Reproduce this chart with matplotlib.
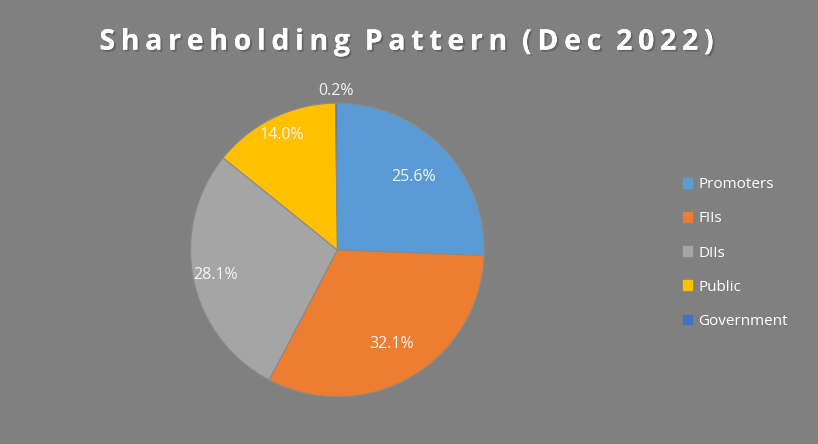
import matplotlib
matplotlib.use("Agg")
import matplotlib.pyplot as plt
import matplotlib.patheffects as pe
import numpy as np

categories = ["Promoters", "FIIs", "DIIs", "Public", "Government"]
values = [25.6, 32.1, 28.1, 14.0, 0.2]
labels = ["25.6%", "32.1%", "28.1%", "14.0%", "0.2%"]
colors = ["#5B9BD5", "#ED7D31", "#A5A5A5", "#FFC000", "#4472C4"]
label_r = [0.72, 0.74, 0.85, 0.87, 1.08]

fig = plt.figure(figsize=(8.18, 4.44), dpi=100)
fig.patch.set_facecolor("#808080")
ax = fig.add_axes([0.233, 0.106, 0.359, 0.662])
ax.set_facecolor("#808080")
wedges, _ = ax.pie(values, colors=colors, startangle=90, counterclock=False,
                   wedgeprops=dict(edgecolor="#8a8a8a", linewidth=0.8))
for w, lab, r in zip(wedges, labels, label_r):
    a = np.deg2rad((w.theta1 + w.theta2) / 2)
    ax.text(r * np.cos(a), r * np.sin(a), lab, ha="center", va="center",
            color="#f4f4f4", fontsize=11.5, family="Open Sans")
ax.set_aspect("equal")
ax.set_xlim(-1.0, 1.0); ax.set_ylim(-1.0, 1.0)

title = "Shareholding Pattern (Dec 2022)"
spaced = "\u2009".join(title).replace("\u2009 \u2009", "  ")
fig.text(0.498, 0.905, spaced, ha="center", va="center",
         color="white", fontsize=20.5, fontweight="bold", family=["Open Sans", "DejaVu Sans"],
         path_effects=[pe.withSimplePatchShadow(offset=(1.5, -1.5), alpha=0.5), pe.Normal()])

handles = [plt.Rectangle((0, 0), 1, 1, color=c) for c in colors]
fig.legend(handles, categories, loc="center left", bbox_to_anchor=(0.818, 0.43),
           frameon=False, labelcolor="white", handlelength=0.6,
           handleheight=0.6, labelspacing=1.25, handletextpad=0.4,
           prop={"family": "Open Sans", "size": 11})
fig.savefig("out.png", dpi=100, facecolor=fig.get_facecolor())
